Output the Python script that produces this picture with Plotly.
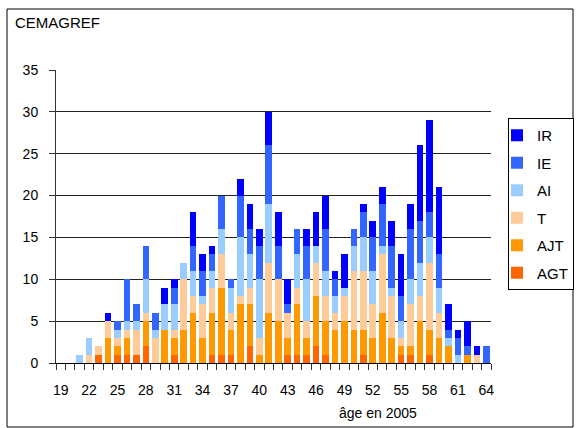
import plotly.graph_objects as go

ages = list(range(19, 65))

AGT = [0,0,0,0,1,0,1,1,1,2,0,0,1,0,0,0,1,1,1,0,2,0,0,0,1,1,1,2,1,0,0,0,1,0,0,0,1,1,0,1,0,0,0,0,0,0]
AJT = [0,0,0,0,0,3,1,2,0,3,0,4,2,4,6,3,5,8,3,7,5,1,6,5,2,6,2,6,4,4,5,4,3,3,6,3,1,1,5,3,3,2,0,1,0,0]
T   = [0,0,0,1,1,2,1,1,3,1,3,0,1,6,2,4,3,4,2,1,2,2,6,5,3,2,2,4,3,2,3,7,7,4,7,5,1,5,3,8,3,0,0,0,1,0]
AI  = [0,0,1,2,0,0,1,1,1,4,1,3,3,2,3,1,2,3,3,7,4,7,7,0,0,4,5,2,3,2,1,3,4,4,1,1,2,3,4,3,3,1,1,0,0,0]
IE  = [0,0,0,0,0,0,1,5,2,4,2,0,2,0,3,3,2,4,1,5,3,4,7,4,1,3,4,0,5,2,0,2,3,4,5,5,3,6,5,3,4,1,2,1,0,2]
IR  = [0,0,0,0,0,1,0,0,0,0,0,2,1,0,4,2,1,0,0,2,3,2,4,4,3,0,2,4,4,1,4,0,1,2,2,3,5,3,9,11,8,3,1,3,1,0]

series = [
    ("AGT", AGT, "#FF6600"),
    ("AJT", AJT, "#FF9900"),
    ("T", T, "#FFCC99"),
    ("AI", AI, "#99CCFF"),
    ("IE", IE, "#3366FF"),
    ("IR", IR, "#0000FF"),
]

yticks = [0, 5, 10, 15, 20, 25, 30, 35]
xticklabels = list(range(19, 65, 3))

FONT = "Liberation Sans, Arial, sans-serif"

fig = go.Figure()
n = len(series)
for i, (name, vals, col) in enumerate(series):
    fig.add_trace(go.Bar(x=ages, y=vals, name=name, marker_color=col,
                         marker_line_width=0, legendgroup=name,
                         legendrank=n - i))

W, H = 576, 428
L, R, T_, B = 56, 85, 70, 65
pw = W - L - R
ph = H - T_ - B

def px2x(px):
    return (px - L) / pw

def px2y(py):
    return (H - B - py) / ph

fig.update_layout(
    width=W, height=H,
    margin=dict(l=L, r=R, t=T_, b=B, autoexpand=False),
    barmode="stack", bargap=0.3,
    plot_bgcolor="white", paper_bgcolor="white",
    font=dict(family=FONT, size=14, color="black"),
    legend=dict(
        x=px2x(508), y=px2y(118), xanchor="left", yanchor="top",
        traceorder="grouped", tracegroupgap=5,
        bordercolor="black", borderwidth=1, bgcolor="white",
        font=dict(family=FONT, size=15, color="black"),
        itemwidth=30, indentation=-12,
    ),
    xaxis=dict(
        range=[18.5, 64.5],
        tickmode="array", tickvals=xticklabels,
        ticktext=[str(v) for v in xticklabels],
        ticks="outside", ticklen=0, showgrid=False,
        showline=True, linecolor="black", linewidth=1,
        ticklabelstandoff=14,
        tickfont=dict(size=14),
        minor=dict(tickvals=[a - 0.5 for a in ages] + [64.5], ticks="outside",
                   ticklen=6, tickcolor="#333", showgrid=False),
        zeroline=False, fixedrange=True,
    ),
    yaxis=dict(
        range=[0, 35], tickvals=yticks,
        ticks="outside", ticklen=6, tickcolor="#333",
        showgrid=True, gridcolor="#222", gridwidth=1,
        showline=True, linecolor="#333", linewidth=1,
        ticklabelstandoff=8, tickfont=dict(size=14),
        zeroline=False, fixedrange=True,
    ),
    shapes=[dict(type="rect", xref="paper", yref="paper",
                 x0=px2x(7), x1=px2x(573), y0=px2y(427), y1=px2y(9),
                 line=dict(color="black", width=1), fillcolor="rgba(0,0,0,0)",
                 layer="below")],
    annotations=[
        dict(text="CEMAGREF", xref="paper", yref="paper",
             x=px2x(13), y=px2y(22), xanchor="left", yanchor="middle",
             showarrow=False, font=dict(size=15)),
        dict(text="âge en 2005", xref="paper", yref="paper",
             x=px2x(378), y=px2y(413), xanchor="center", yanchor="middle",
             showarrow=False, font=dict(size=14)),
    ],
)

fig.write_html("out.html", config={"displayModeBar": False},
               post_script="document.body.style.margin='0';")
